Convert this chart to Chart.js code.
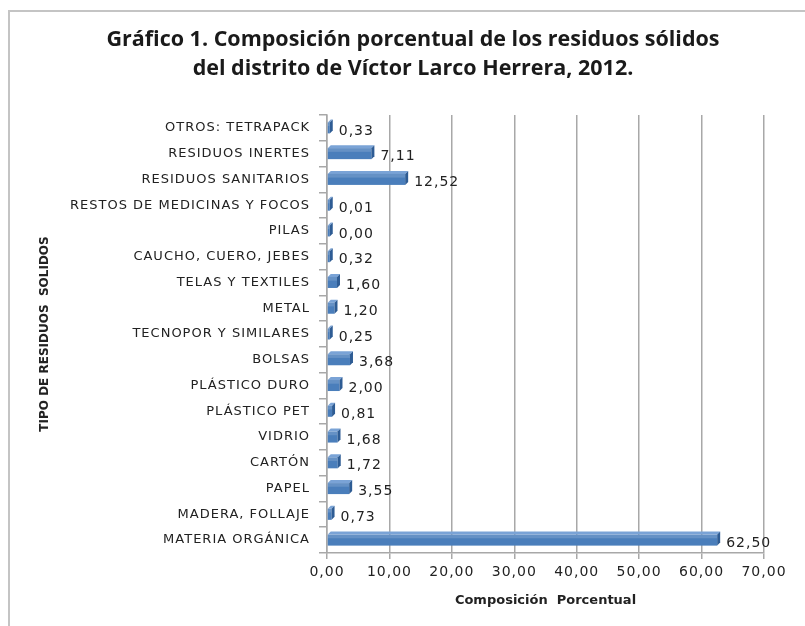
<!DOCTYPE html>
<html>
<head>
<meta charset="utf-8">
<script src="https://cdn.jsdelivr.net/npm/chart.js@4"></script>
<style>
  html, body { margin: 0; padding: 0; background: #fff; }
  #wrap { position: relative; width: 805px; height: 626px; }
  #frame { position: absolute; left: 8px; top: 10px; width: 820px; height: 640px;
           border: 2px solid #c4c4c4; box-sizing: border-box; }
  canvas { position: absolute; left: 0; top: 0; }
</style>
</head>
<body>
<div id="wrap">
  <div id="frame"></div>
  <canvas id="chart" width="805" height="626"></canvas>
</div>
<script>
var titleLines = ['Gráfico 1. Composición porcentual de los residuos sólidos',
                  'del distrito de Víctor Larco Herrera, 2012.'];
var categories = ['OTROS: TETRAPACK', 'RESIDUOS INERTES', 'RESIDUOS SANITARIOS',
    'RESTOS DE MEDICINAS Y FOCOS', 'PILAS', 'CAUCHO, CUERO, JEBES', 'TELAS Y TEXTILES',
    'METAL', 'TECNOPOR Y SIMILARES', 'BOLSAS', 'PLÁSTICO DURO', 'PLÁSTICO PET',
    'VIDRIO', 'CARTÓN', 'PAPEL', 'MADERA, FOLLAJE', 'MATERIA ORGÁNICA'];
var values = [0.33, 7.11, 12.52, 0.01, 0.00, 0.32, 1.60, 1.20, 0.25, 3.68, 2.00,
    0.81, 1.68, 1.72, 3.55, 0.73, 62.50];
var xTicks = [0, 10, 20, 30, 40, 50, 60, 70];
var xTitle = 'Composición  Porcentual';
var yTitle = 'TIPO DE RESIDUOS  SOLIDOS';

function fmt(v) { return v.toFixed(2).replace('.', ','); }

// axis titles drawn tight, tick and value labels drawn wide (ticks use z:1)
var spacing = {
  id: 'spacing',
  beforeDraw: function(chart) { chart.ctx.letterSpacing = '0px'; },
  beforeDatasetsDraw: function(chart) { chart.ctx.letterSpacing = '1px'; },
  afterDraw: function(chart) { chart.ctx.letterSpacing = '0px'; }
};

var titlePlugin = {
  id: 'twoLineTitle',
  afterDraw: function(chart) {
    var ctx = chart.ctx;
    ctx.save();
    ctx.letterSpacing = '0px';
    ctx.fillStyle = '#1a1a1a';
    ctx.font = 'bold 21.5px "Open Sans", sans-serif';
    ctx.textAlign = 'center';
    ctx.textBaseline = 'middle';
    ctx.fillText(titleLines[0], 413, 40);
    ctx.fillText(titleLines[1], 413, 69);
    ctx.restore();
  }
};

var barPlugin = {
  id: 'bars3d',
  afterDatasetsDraw: function(chart) {
    var ctx = chart.ctx;
    var meta = chart.getDatasetMeta(0);
    var d = 3;
    ctx.save();
    meta.data.forEach(function(bar, i) {
      var x0 = bar.base, x1 = Math.max(bar.x, bar.base + 2);
      var h = bar.height, yt = bar.y - h / 2, yb = bar.y + h / 2;
      ctx.fillStyle = '#7aa3d6';
      ctx.beginPath();
      ctx.moveTo(x0, yt); ctx.lineTo(x0 + d, yt - d); ctx.lineTo(x1 + d, yt - d); ctx.lineTo(x1, yt);
      ctx.closePath(); ctx.fill();
      ctx.fillStyle = '#4a7ebb';
      ctx.fillRect(x0, yt, x1 - x0, h);
      ctx.fillStyle = 'rgba(255,255,255,0.15)';
      ctx.fillRect(x0, yt, x1 - x0, h / 3);
      ctx.fillStyle = '#2e5c94';
      ctx.beginPath();
      ctx.moveTo(x1, yt); ctx.lineTo(x1 + d, yt - d); ctx.lineTo(x1 + d, yb - d); ctx.lineTo(x1, yb);
      ctx.closePath(); ctx.fill();
      ctx.fillStyle = '#222';
      ctx.font = '14px "DejaVu Sans", sans-serif';
      ctx.textAlign = 'left';
      ctx.textBaseline = 'middle';
      ctx.fillText(fmt(values[i]), x1 + d + 6, bar.y + 3);
    });
    ctx.restore();
  }
};

new Chart(document.getElementById('chart').getContext('2d'), {
  type: 'bar',
  data: {
    labels: categories,
    datasets: [{
      data: values,
      backgroundColor: 'rgba(0,0,0,0)',
      borderWidth: 0,
      barThickness: 11,
      minBarLength: 2
    }]
  },
  options: {
    indexAxis: 'y',
    responsive: false,
    animation: false,
    layout: { padding: { top: 115, right: 41, bottom: 0, left: 0 } },
    plugins: { legend: { display: false }, tooltip: { enabled: false }, title: { display: false } },
    scales: {
      x: {
        min: 0, max: 70,
        afterBuildTicks: function(s) { s.ticks = xTicks.map(function(v) { return { value: v }; }); },
        afterFit: function(s) { s.height = 73; },
        ticks: {
          callback: function(v) { return fmt(v); },
          color: '#222',
          font: { family: '"DejaVu Sans", sans-serif', size: 14 },
          padding: 5,
          maxRotation: 0,
          z: 1
        },
        grid: { color: '#a8a8a8', lineWidth: 1.5, tickLength: 6 },
        border: { color: '#a8a8a8', width: 1.5 },
        title: {
          display: true, text: xTitle, color: '#222',
          font: { family: '"DejaVu Sans", sans-serif', size: 13, weight: 'bold' },
          padding: { top: 4, bottom: 18 }
        }
      },
      y: {
        afterFit: function(s) { s.width = 327; },
        ticks: {
          color: '#222',
          font: { family: '"DejaVu Sans", sans-serif', size: 13 },
          padding: 9,
          autoSkip: false,
          z: 1
        },
        grid: { drawOnChartArea: false, offset: true, color: '#a8a8a8', tickLength: 8, lineWidth: 1.5 },
        border: { color: '#a8a8a8', width: 1.5 },
        title: {
          display: true, text: yTitle, color: '#222',
          font: { family: '"DejaVu Sans", sans-serif', size: 12, weight: 'bold' },
          padding: { top: 38, bottom: 0 }
        }
      }
    }
  },
  plugins: [spacing, titlePlugin, barPlugin]
});
</script>
</body>
</html>
